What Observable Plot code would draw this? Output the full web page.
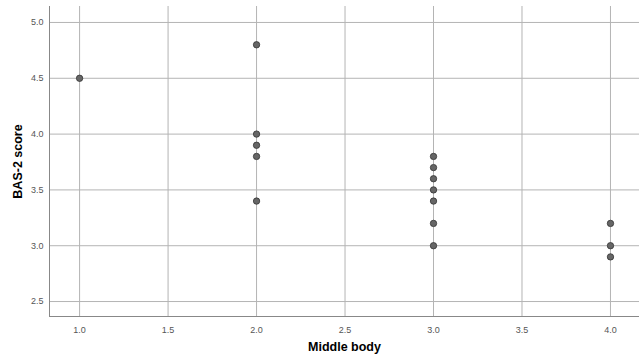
<!DOCTYPE html>
<html>
<head>
<meta charset="utf-8">
<script src="https://cdn.jsdelivr.net/npm/d3@7"></script>
<script src="https://cdn.jsdelivr.net/npm/@observablehq/plot@0.6"></script>
<style>
  html, body { margin: 0; padding: 0; background: #fff; }
  #chart svg { display: block; }
  g[aria-label="x-axis label"] text, g[aria-label="y-axis label"] text { font-weight: bold; font-size: 12.5px; fill: #000; }
</style>
</head>
<body>
<div id="chart"></div>
<script>
const middleBody = [1, 2, 2, 2, 2, 2, 3, 3, 3, 3, 3, 3, 3, 4, 4, 4];
const bas2Score  = [4.5, 4.8, 4.0, 3.9, 3.8, 3.4, 3.8, 3.7, 3.6, 3.5, 3.4, 3.2, 3.0, 3.2, 3.0, 2.9];
const xTicks = [1.0, 1.5, 2.0, 2.5, 3.0, 3.5, 4.0];
const yTicks = [2.5, 3.0, 3.5, 4.0, 4.5, 5.0];

const data = middleBody.map((x, i) => ({x, y: bas2Score[i]}));
const fmt = d3.format(".1f");

const chart = Plot.plot({
  width: 639,
  height: 357,
  marginLeft: 49,
  marginRight: 0,
  marginTop: 6,
  marginBottom: 41,
  style: {fontFamily: "Liberation Sans, Arial, sans-serif", fontSize: "9px", color: "#555", background: "#fff"},
  x: {domain: [0.83, 4.164]},
  y: {domain: [2.366, 5.143]},
  marks: [
    Plot.gridX(xTicks, {stroke: "#b4b4b4", strokeOpacity: 1, strokeWidth: 1}),
    Plot.gridY(yTicks, {stroke: "#b4b4b4", strokeOpacity: 1, strokeWidth: 1}),
    Plot.axisX(xTicks, {tickSize: 0, tickPadding: 10, tickFormat: fmt, label: "Middle body", labelArrow: "none", labelAnchor: "center", labelOffset: 34, fill: "#555"}),
    Plot.axisY(yTicks, {tickSize: 0, tickPadding: 6, tickFormat: fmt, label: "BAS-2 score", labelArrow: "none", labelAnchor: "center", labelOffset: 36, fill: "#555"}),
    Plot.frame({anchor: "left", stroke: "#888"}),
    Plot.frame({anchor: "bottom", stroke: "#888"}),
    Plot.dot(data, {x: "x", y: "y", r: 3.2, fill: "#666", stroke: "#333", strokeWidth: 0.8})
  ]
});
document.getElementById("chart").appendChild(chart);
</script>
</body>
</html>
